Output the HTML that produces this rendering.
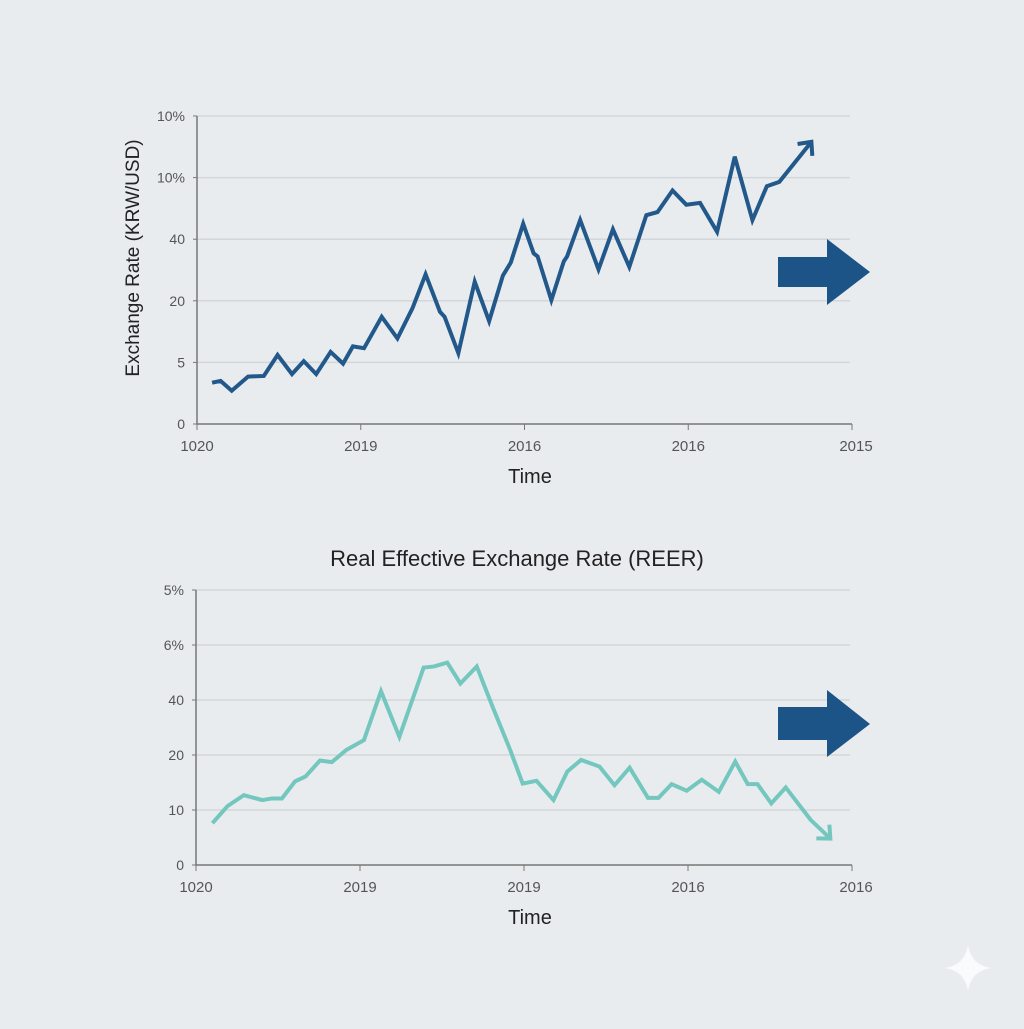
<!DOCTYPE html>
<html><head><meta charset="utf-8"><style>
html,body{margin:0;padding:0;background:#e9ecef;}
svg text{font-family:"Liberation Sans",sans-serif;}
</style></head><body>
<svg id="c" width="1024" height="1024" viewBox="0 0 1024 1024" xmlns="http://www.w3.org/2000/svg">
<rect width="1024" height="1024" fill="#e9ecef"/>
<text x="517" y="566" font-size="22" text-anchor="middle" fill="#222">Real Effective Exchange Rate (REER)</text>
<text transform="translate(139,258) rotate(-90)" font-size="19" text-anchor="middle" fill="#222">Exchange Rate (KRW/USD)</text>
<text x="530" y="483" font-size="20" text-anchor="middle" fill="#222">Time</text>
<text x="530" y="924" font-size="20" text-anchor="middle" fill="#222">Time</text>
<g><path d="M778 257H827V239L870 272L827 305V287H778Z" fill="#1d5488"/></g>
<g><path d="M778 707H827V690L870 724L827 757V740H778Z" fill="#1d5488"/></g>
<path d="M945 968Q965 965 968 945Q971 965 991 968Q971 971 968 991Q965 971 945 968Z" fill="#fafbfc"/>
</svg>
<script>
const topYTicks=["0","5","20","40","10%","10%"];
const topXTicks=["1020","2019","2016","2016","2015"];
const topT=[2.3,3.6,5.3,7.8,10.2,12.3,14.5,16.3,18.2,20.4,22.3,23.8,25.5,28.2,30.6,32.9,34.9,37.1,37.8,39.9,42.4,44.6,46.7,47.9,49.8,51.4,52.0,54.1,56.0,56.5,58.5,61.3,63.5,66.0,68.6,70.3,72.6,74.7,76.8,79.4,82.1,84.8,87.0,88.9,93.8];
const topV=[0.67,0.70,0.54,0.77,0.78,1.12,0.81,1.02,0.81,1.17,0.98,1.26,1.23,1.74,1.39,1.88,2.43,1.82,1.74,1.15,2.31,1.67,2.41,2.62,3.25,2.77,2.72,2.01,2.64,2.72,3.31,2.51,3.16,2.55,3.39,3.44,3.79,3.56,3.59,3.12,4.34,3.31,3.86,3.93,4.58];
const botYTicks=["0","10","20","40","6%","5%"];
const botXTicks=["1020","2019","2019","2016","2016"];
const botT=[2.5,4.8,7.3,10.1,11.6,13.1,15.1,16.7,18.9,20.7,22.9,25.6,28.2,31.0,34.7,36.3,38.3,40.3,42.8,45.3,47.9,49.8,51.9,54.5,56.6,58.7,61.5,63.8,66.1,68.9,70.5,72.5,74.8,77.1,79.7,82.2,84.1,85.6,87.7,89.9,93.7,96.7];
const botV=[0.76,1.07,1.27,1.18,1.21,1.21,1.52,1.61,1.90,1.87,2.09,2.27,3.16,2.33,3.59,3.61,3.68,3.30,3.61,2.85,2.09,1.48,1.53,1.18,1.70,1.91,1.79,1.45,1.77,1.22,1.22,1.47,1.35,1.55,1.33,1.88,1.47,1.47,1.12,1.41,0.82,0.48];
const NS="http://www.w3.org/2000/svg";
const svg=document.getElementById('c');
function mk(t,a){const e=document.createElementNS(NS,t);for(const k in a)e.setAttribute(k,a[k]);return e;}
function chart(cfg){
  const g=mk('g',{});
  
  
  svg.insertBefore(g,svg.children[1]);
  const sx=t=>cfg.x0+(cfg.x1-cfg.x0)*t/100;
  const sy=v=>cfg.y0-(cfg.y0-cfg.yTop)*v/5;
  cfg.yTicks.forEach((lab,i)=>{
    const y=sy(i);
    if(i>0){const l=mk('line',{x1:cfg.x0,x2:cfg.x1-2,y1:y,y2:y,stroke:'#d3d6da','stroke-width':1.5});
      
      g.appendChild(l);}
    const tk=mk('line',{x1:cfg.x0-4,x2:cfg.x0,y1:y,y2:y,stroke:'#777'});g.appendChild(tk);
    const t=mk('text',{x:cfg.x0-12,y:y+5,'font-size':14,'text-anchor':'end',fill:'#555'});
    
    
    t.textContent=lab;g.appendChild(t);
  });
  cfg.xTicks.forEach((lab,i)=>{
    const x=sx(i*25);
    g.appendChild(mk('line',{x1:x,x2:x,y1:cfg.y0,y2:cfg.y0+6,stroke:'#777'}));
    const t=mk('text',{x:x+(i==4?4:0),y:cfg.y0+27,'font-size':15,'text-anchor':'middle',fill:'#555'});
    
    
    t.textContent=lab;g.appendChild(t);
  });
  const ax=mk('path',{d:`M${cfg.x0} ${cfg.yTop}V${cfg.y0}H${cfg.x1}`,fill:'none',stroke:'#777','stroke-width':1.5});
  
  
  g.appendChild(ax);
  const pts=cfg.t.map((t,i)=>[sx(t),sy(cfg.v[i])]);
  const p=mk('polyline',{points:pts.map(q=>q.join(',')).join(' '),fill:'none',stroke:cfg.color,'stroke-width':4,'stroke-linejoin':'miter'});
  
  
  g.appendChild(p);
  const a=pts[pts.length-1],b=pts[pts.length-2];
  const ang=Math.atan2(a[1]-b[1],a[0]-b[0]);
  const L=14;
  const h=mk('path',{d:`M${a[0]+L*Math.cos(ang+2.4)} ${a[1]+L*Math.sin(ang+2.4)}L${a[0]} ${a[1]}L${a[0]+L*Math.cos(ang-2.4)} ${a[1]+L*Math.sin(ang-2.4)}`,fill:'none',stroke:cfg.color,'stroke-width':4});
  
  
  g.appendChild(h);
}
chart({name:'krw-usd-chart',x0:197,x1:852,y0:424,yTop:116,yTicks:topYTicks,xTicks:topXTicks,t:topT,v:topV,color:'#22598a'});
chart({name:'reer-chart',x0:196,x1:852,y0:865,yTop:590,yTicks:botYTicks,xTicks:botXTicks,t:botT,v:botV,color:'#74c7be'});
</script>
</body></html>
